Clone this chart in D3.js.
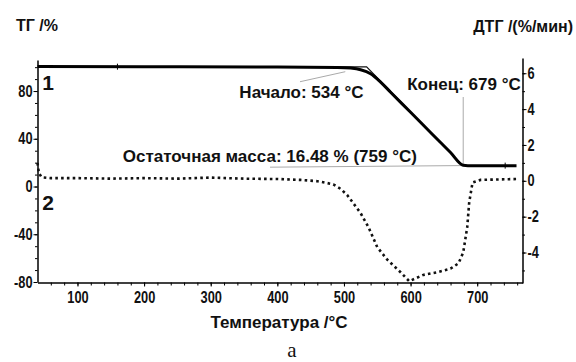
<!DOCTYPE html>
<html>
<head>
<meta charset="utf-8">
<script src="https://cdn.jsdelivr.net/npm/d3@7"></script>
<style>
  body { margin: 0; background: #fff; }
  svg text { font-family: "Liberation Sans", Arial, sans-serif; font-weight: bold; fill: #111; }
</style>
</head>
<body>
<svg id="chart" width="576" height="362"></svg>
<script>
// ТГ (mass, %) vs temperature
const tgTemp = [40, 200, 400, 490, 510, 525, 540, 555, 570, 600, 630, 660, 679, 686, 759];
const tgMass = [100.5, 100.4, 100.2, 99.8, 99.2, 97.8, 94.5, 87.5, 79, 62.2, 45.3, 28.5, 17.8, 17.5, 17.5];

// ДТГ (%/мин) vs temperature
const dtgTemp = [40, 42, 46, 60, 100, 150, 200, 250, 300, 350, 400, 435, 460, 472, 484, 495, 505, 515, 525, 537, 550, 565, 585, 598, 619, 640, 660, 672, 679, 685, 688, 693, 705, 735, 761];
const dtgRate = [1.0, 0.45, 0.2, 0.15, 0.15, 0.12, 0.15, 0.12, 0.18, 0.12, 0.1, 0.05, -0.02, -0.1, -0.2, -0.45, -0.8, -1.3, -1.8, -2.6, -3.7, -4.4, -5.1, -5.6, -5.25, -5.1, -4.9, -4.6, -4.0, -2.6, -1.2, -0.1, 0.05, 0.08, 0.1];

const xTicks = [100, 200, 300, 400, 500, 600, 700];
const leftTicks = [-80, -40, 0, 40, 80];
const rightTicks = [-4, -2, 0, 2, 4, 6];

const onsetT = 534, endT = 679, residue = 16.48, residueT = 759;

var svg = d3.select("#chart"),
    margin = { top: 59, left: 37.5, bottom: 80, right: 53.5 },
    width = +svg.attr("width"),
    height = +svg.attr("height");

var x = d3.scaleLinear().domain([40, 768]).range([margin.left, width - margin.right]);
var yL = d3.scaleLinear().domain([-80, 106]).range([282, 60]);
var yR = d3.scaleLinear().domain([-5.7, 6.85]).range([283, 58]);

var fmt = d => String(d);   // plain hyphen minus like the original

// squeeze tick labels a bit, the original uses a narrow bold face
function narrow(sel) {
    sel.selectAll("text").attr("font-size", "16px").each(function () {
        var w = this.getComputedTextLength();
        d3.select(this).attr("textLength", w * 0.8).attr("lengthAdjust", "spacingAndGlyphs");
    });
}

// axes
svg.append("g").attr("transform", "translate(0,282.5)")
    .call(d3.axisBottom(x).tickValues(d3.range(60, 768, 20)).tickSize(3).tickFormat("").tickSizeOuter(0))
    .call(g => g.select(".domain").attr("stroke-width", 1.5));
svg.append("g").attr("transform", "translate(0,282.5)")
    .call(d3.axisBottom(x).tickValues(xTicks).tickSize(4).tickPadding(5).tickFormat(fmt).tickSizeOuter(0))
    .call(g => g.select(".domain").remove())
    .call(narrow);

svg.append("g").attr("transform", `translate(${margin.left},0)`)
    .call(d3.axisLeft(yL).tickValues(d3.range(-70, 106, 10)).tickSize(2.5).tickFormat("").tickSizeOuter(0))
    .call(g => g.select(".domain").attr("stroke-width", 1.5));
svg.append("g").attr("transform", `translate(${margin.left},0)`)
    .call(d3.axisLeft(yL).tickValues(leftTicks).tickSize(4).tickPadding(1).tickFormat(fmt).tickSizeOuter(0))
    .call(g => g.select(".domain").remove())
    .call(narrow);

svg.append("g").attr("transform", `translate(${width - margin.right},0)`)
    .call(d3.axisRight(yR).tickValues(d3.range(-5, 7, 1)).tickSize(2.5).tickFormat("").tickSizeOuter(0))
    .call(g => g.select(".domain").attr("stroke-width", 1.5));
svg.append("g").attr("transform", `translate(${width - margin.right},0)`)
    .call(d3.axisRight(yR).tickValues(rightTicks).tickSize(4).tickPadding(1).tickFormat(fmt).tickSizeOuter(0))
    .call(g => g.select(".domain").remove())
    .call(narrow);

// axis titles
svg.append("text").attr("x", 16).attr("y", 31).attr("font-size", "16px").text("ТГ /%");
svg.append("text").attr("x", 573).attr("y", 32).attr("font-size", "16px")
    .style("text-anchor", "end").text("ДТГ /(%/мин)");
svg.append("text").attr("x", 279).attr("y", 328).attr("font-size", "17px")
    .style("text-anchor", "middle").text("Температура /°C");
svg.append("text").attr("x", 292).attr("y", 357).attr("font-size", "21px")
    .style("font-family", "'Liberation Serif', 'Times New Roman', serif").style("font-weight", "normal")
    .style("text-anchor", "middle").text("а");

// gray leader lines
var gray = "#aaa";
svg.append("line").attr("stroke", gray).attr("stroke-width", 1)
    .attr("x1", x(434)).attr("y1", yL(87.8)).attr("x2", x(502)).attr("y2", yL(96.2));
svg.append("line").attr("stroke", gray).attr("stroke-width", 1)
    .attr("x1", x(endT)).attr("y1", yL(75)).attr("x2", x(endT)).attr("y2", yL(18));
svg.append("line").attr("stroke", gray).attr("stroke-width", 1)
    .attr("x1", x(389)).attr("y1", yL(16.2)).attr("x2", x(690)).attr("y2", yL(17.6));

// tangents
svg.append("path").attr("fill", "none").attr("stroke", "#111").attr("stroke-width", 1.2)
    .attr("d", d3.line()([[x(480), yL(100.3)], [x(onsetT), yL(100.3)], [x(endT), yL(17.5)]]));

// TG curve
var tgData = tgTemp.map((t, i) => [t, tgMass[i]]);
svg.append("path").datum(tgData)
    .attr("fill", "none").attr("stroke", "#000").attr("stroke-width", 3)
    .attr("stroke-linejoin", "round")
    .attr("d", d3.line().x(d => x(d[0])).y(d => yL(d[1])).curve(d3.curveMonotoneX));

// small markers on TG
[160, 742].forEach(t => {
    var v = t < 500 ? 100.4 : 17.5;
    svg.append("line").attr("stroke", "#000").attr("stroke-width", 1)
        .attr("x1", x(t)).attr("x2", x(t))
        .attr("y1", yL(v) - 3).attr("y2", yL(v) + 3);
});

// DTG curve
var dtgData = dtgTemp.map((t, i) => [t, dtgRate[i]]);
svg.append("path").datum(dtgData)
    .attr("fill", "none").attr("stroke", "#111").attr("stroke-width", 2.6)
    .attr("stroke-dasharray", "2.6,3.2")
    .attr("d", d3.line().x(d => x(d[0])).y(d => yR(d[1])));

// annotations
var af = "17px";
svg.append("text").attr("x", x(343)).attr("y", yL(74)).attr("font-size", af).text("Начало: " + onsetT + " °C");
svg.append("text").attr("x", x(595)).attr("y", yL(81)).attr("font-size", af).text("Конец: " + endT + " °C");
svg.append("text").attr("x", x(168)).attr("y", yL(20.8)).attr("font-size", af)
    .text("Остаточная масса: " + residue + " % (" + residueT + " °C)");
svg.append("text").attr("x", x(47)).attr("y", yL(80.5)).attr("font-size", "21px").text("1");
svg.append("text").attr("x", x(47)).attr("y", yL(-20)).attr("font-size", "21px").text("2");
</script>
</body>
</html>
